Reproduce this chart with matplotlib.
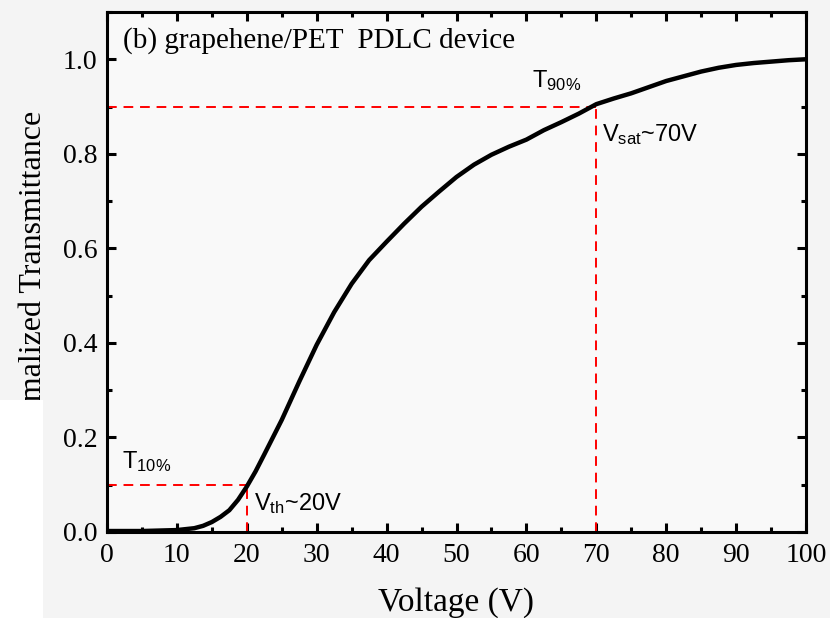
import matplotlib.pyplot as plt
from matplotlib.patches import Rectangle
from matplotlib.ticker import MultipleLocator

# electro-optic response of the graphene/PET PDLC cell
voltage = [0, 2.5, 5, 7.5, 10, 12.5, 13.75, 15, 16.25, 17.5, 18.75, 20, 21.25,
           22.5, 25, 27.5, 30, 32.5, 35, 37.5, 40, 42.5, 45, 47.5, 50, 52.5, 55,
           57.5, 60, 62.5, 65, 67.5, 70, 72.5, 75, 77.5, 80, 82.5, 85, 87.5, 90,
           92.5, 95, 97.5, 100]
trans = [0.002, 0.002, 0.002, 0.003, 0.004, 0.008, 0.013, 0.021, 0.032, 0.046,
         0.068, 0.096, 0.128, 0.164, 0.237, 0.318, 0.396, 0.465, 0.525, 0.575,
         0.614, 0.652, 0.688, 0.720, 0.751, 0.777, 0.798, 0.815, 0.830, 0.850,
         0.867, 0.885, 0.905, 0.917, 0.928, 0.941, 0.954, 0.964, 0.974, 0.982,
         0.988, 0.992, 0.995, 0.998, 1.000]

v_th, t10 = 20, 0.1
v_sat, t90 = 70, 0.9

serif = ['Liberation Serif', 'DejaVu Serif']
sans = ['Liberation Sans', 'DejaVu Sans']

fig = plt.figure(figsize=(8.3, 6.18), dpi=100, facecolor='#f4f4f4')
ax = fig.add_axes([0.1289, 0.1392, 0.8422, 0.8414])
ax.set_facecolor('#f9f9f9')

ax.plot(voltage, trans, color='black', lw=3.2, zorder=3)

red = dict(color='red', lw=1.4, dashes=(5, 3.5), zorder=2)
ax.plot([0, v_th], [t10, t10], **red)
ax.plot([v_th, v_th], [0, t10], **red)
ax.plot([0, v_sat], [t90, t90], **red)
ax.plot([v_sat, v_sat], [0, t90], **red)

ax.set_xlim(0, 100)
ax.set_ylim(0, 1.1)
ax.xaxis.set_major_locator(MultipleLocator(10))
ax.xaxis.set_minor_locator(MultipleLocator(5))
ax.yaxis.set_major_locator(MultipleLocator(0.2))
ax.yaxis.set_minor_locator(MultipleLocator(0.1))
ax.tick_params(which='both', direction='in', top=True, right=True, width=2.2)
ax.tick_params(which='major', length=6.5, labelsize=20, pad=7)
ax.tick_params(which='minor', length=3.5)
ax.tick_params(axis='x', which='major', pad=8)
for lab in ax.get_xticklabels() + ax.get_yticklabels():
    lab.set_family(serif)
for sp in ax.spines.values():
    sp.set_linewidth(2.2)

fig.text(0.549, 0.012, 'Voltage (V)', fontsize=24, family=serif,
         ha='center', va='baseline')
fig.text(0.058, 0.545, 'Normalized Transmittance', rotation=90, fontsize=23,
         family=serif, ha='right', va='center')
# white strip in the lower left corner
fig.add_artist(Rectangle((0, 0), 0.052, 0.352, transform=fig.transFigure,
                         facecolor='white', edgecolor='none', zorder=5))

ax.text(2.3, 1.04, '(b) grapehene/PET  PDLC device', fontsize=21,
        family=serif, va='center')
ax.text(2.1, 0.148, r'$\mathregular{T_{10\%}}$', fontsize=17, family=sans,
        va='center')
ax.text(60.8, 0.955, r'$\mathregular{T_{90\%}}$', fontsize=17, family=sans,
        va='center')
ax.text(21.0, 0.06, r'$\mathregular{V_{th}}$~20V', fontsize=17, family=sans,
        va='center')
ax.text(70.8, 0.84, r'$\mathregular{V_{sat}}$~70V', fontsize=17, family=sans,
        va='center')

fig.savefig('out.png', dpi=100, facecolor=fig.get_facecolor())
